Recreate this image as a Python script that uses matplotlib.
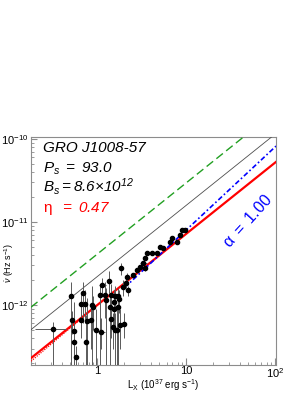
import numpy as np
import matplotlib
matplotlib.use("Agg")
import matplotlib.pyplot as plt
from matplotlib.ticker import FixedLocator, FuncFormatter, LogLocator, NullFormatter

plt.rcParams['font.family'] = ['Liberation Sans', 'DejaVu Sans']
plt.rcParams['mathtext.fontset'] = 'custom'
plt.rcParams['mathtext.rm'] = 'Liberation Sans'
plt.rcParams['mathtext.it'] = 'Liberation Sans:italic'
plt.rcParams['mathtext.sf'] = 'Liberation Sans:italic'  # used for the italic labels
plt.rcParams['mathtext.bf'] = 'Liberation Sans:bold'

# ---------------- data ----------------
# L_X in 1e37 erg/s, nudot in 1e-12 Hz/s
lum = [0.32, 0.51, 0.52, 0.55, 0.55, 0.57, 0.75, 0.70, 0.77, 0.66,
       0.73, 0.88, 0.66, 0.86, 0.90, 0.97, 1.08, 1.14, 1.23, 1.11,
       1.26, 1.36, 1.40, 1.44, 1.44, 1.51, 1.55, 1.55, 1.59, 1.59,
       1.68, 1.72, 1.72, 1.77, 1.81, 2.01, 1.86, 1.96, 2.12, 2.17,
       2.23, 2.54, 2.81, 3.04, 3.29, 3.46, 3.46, 3.65, 4.15, 4.72,
       5.10, 5.52, 6.61, 6.97, 7.92, 8.57, 9.02, 9.75]
lum_err = [0.12, 0.02, 0.02, 0.02, 0.03, 0.02, 0.02, 0.03, 0.03, 0.03,
           0.03, 0.04, 0.03, 0.04, 0.04, 0.04, 0.05, 0.10, 0.05, 0.10,
           0.05, 0.05, 0.05, 0.05, 0.05, 0.05, 0.05, 0.05, 0.05, 0.05,
           0.05, 0.05, 0.05, 0.05, 0.05, 0.05, 0.05, 0.05, 0.08, 0.06,
           0.06, 0.10, 0.10, 0.10, 0.30, 0.10, 0.10, 0.25, 0.15, 0.15,
           0.20, 0.20, 0.20, 0.20, 0.25, 0.30, 0.30, 0.40]
nudot = [0.52, 1.28, 0.66, 0.49, 0.36, 0.24, 0.36, 1.39, 0.64, 1.03,
         1.03, 1.00, 0.66, 0.66, 0.95, 0.50, 1.32, 1.74, 1.32, 0.48,
         1.15, 1.94, 0.95, 1.32, 0.68, 0.55, 1.09, 0.90, 1.28, 0.50,
         0.50, 1.28, 0.95, 1.18, 0.58, 0.59, 2.77, 1.64, 1.83, 2.16,
         1.51, 2.29, 2.62, 2.85, 3.18, 2.77, 3.65, 4.20, 4.20, 4.20,
         4.95, 4.82, 5.68, 6.34, 5.68, 6.89, 7.91, 7.91]
nudot_lo = [0.05, 0.05, 0.45, 0.05, 0.05, 0.05, 0.05, 0.60, 0.05, 0.50,
            0.60, 0.05, 0.40, 0.30, 0.50, 0.05, 0.05, 1.30, 0.70, 0.30,
            0.05, 1.40, 0.05, 0.80, 0.40, 0.30, 0.70, 0.50, 0.90, 0.05,
            0.05, 0.90, 0.05, 0.80, 0.30, 0.40, 2.30, 1.30, 1.60, 1.95,
            1.30, 2.15, 2.45, 2.70, 3.00, 2.60, 3.45, 4.00, 4.00, 4.00,
            4.75, 4.62, 5.45, 6.10, 5.45, 6.60, 7.60, 7.60]
nudot_hi = [0.62, 1.90, 0.85, 1.10, 0.55, 0.32, 0.75, 1.90, 1.20, 1.40,
            1.50, 1.70, 1.00, 1.00, 1.30, 0.90, 1.80, 2.10, 1.90, 0.70,
            1.60, 2.60, 1.40, 1.80, 1.00, 0.80, 1.50, 1.30, 1.70, 0.80,
            0.90, 1.60, 1.30, 1.50, 0.90, 0.80, 3.20, 2.00, 2.10, 2.40,
            1.70, 2.45, 2.80, 3.00, 3.35, 2.95, 3.85, 4.40, 4.40, 4.40,
            5.15, 5.02, 5.90, 6.60, 5.90, 7.20, 8.20, 8.20]

# model lines: nudot = k * L^index (units 1e-12 Hz/s)
k_red, k_black, k_green = 1.0, 2.2, 4.1
index_67 = 6.0 / 7.0
k_blue, index_blue = 0.8, 1.0
blue_from = 2.0

x_min, x_max = 0.18, 102
y_min, y_max = 1.9e-13, 1.05e-10

# ---------------- figure ----------------
fig = plt.figure(figsize=(3.05, 3.95), dpi=100)
ax = fig.add_axes([31/305, 30/395, 245/305, 228/395])

L = np.array(lum)
nu = np.array(nudot) * 1e-12
lo = nu - np.array(nudot_lo) * 1e-12
hi = np.array(nudot_hi) * 1e-12 - nu
ax.errorbar(L, nu, xerr=lum_err, yerr=[lo, hi], fmt='o', ms=3, color='black',
            ecolor='0.35', elinewidth=0.7, capsize=0, zorder=4)

grid = np.logspace(np.log10(x_min), np.log10(x_max), 200)
ax.plot(grid, k_green * 1e-12 * grid ** index_67, color='#22a022', lw=1.0,
        dashes=(6, 3), zorder=3)
ax.plot(grid, k_black * 1e-12 * grid ** index_67, color='0.3', lw=0.6, zorder=3)
ax.plot(grid, k_red * 1e-12 * grid ** index_67, color='red', lw=1.6, zorder=3)
low = grid[grid < 0.7]
ax.plot(low, k_red * 1e-12 * low ** (index_67 + 0.05), color='red', lw=0.9,
        ls=(0, (1, 1)), zorder=3)
gb = grid[grid >= blue_from]
ax.plot(gb, k_blue * 1e-12 * gb ** index_blue, color='blue', lw=1.2,
        dashes=(3, 1.5, 1, 1.5), zorder=3)

ax.set_xscale('log')
ax.set_yscale('log')
ax.set_xlim(x_min, x_max)
ax.set_ylim(y_min, y_max)

ax.xaxis.set_major_locator(FixedLocator([1, 10, 100]))
ax.xaxis.set_major_formatter(FuncFormatter(
    lambda v, p: {1: '1', 10: '10', 100: r'$10^{2}$'}.get(int(round(v)), '')))
ax.xaxis.set_minor_locator(LogLocator(base=10, subs=np.arange(2, 10)))
ax.xaxis.set_minor_formatter(NullFormatter())
ax.yaxis.set_major_locator(FixedLocator([1e-12, 1e-11, 1e-10]))
ax.yaxis.set_major_formatter(FuncFormatter(
    lambda v, p: r'$10^{%d}$' % int(round(np.log10(v)))))
ax.yaxis.set_minor_locator(LogLocator(base=10, subs=np.arange(2, 10)))
ax.yaxis.set_minor_formatter(NullFormatter())

for s in ax.spines.values():
    s.set_color('0.55')
    s.set_linewidth(0.8)
ax.tick_params(which='both', direction='in', color='0.55', top=False, right=False,
               labelsize=8)
ax.tick_params(axis='x', which='major', length=5, pad=1)
ax.tick_params(axis='x', which='minor', length=2.5)
ax.tick_params(axis='y', which='major', length=4, pad=2)
ax.tick_params(axis='y', which='minor', length=2)

ax.text(0.049, 0.934, 'GRO J1008-57', style='italic', fontsize=11,
        transform=ax.transAxes, va='baseline')
ax.text(0.049, 0.846, r'$\mathsf{P_s\ =\ 93.0}$', fontsize=11,
        transform=ax.transAxes, va='baseline')
ax.text(0.049, 0.762, r'$\mathsf{B_s{=}8.6{\times}10^{12}}$', fontsize=11,
        transform=ax.transAxes, va='baseline')
ax.text(0.049, 0.671, r'$\mathrm{\eta}\ \ \mathsf{=\ 0.47}$', fontsize=11,
        color='red', transform=ax.transAxes, va='baseline')
ax.text(0.886, 0.632, r'$\mathrm{\alpha}\ =\ 1.00$', fontsize=11.5, color='blue',
        rotation=48, transform=ax.transAxes, ha='center', va='center')

fig.text(163/305, 1 - 385/395, r'L$_{\rm X}$ (10$^{37}$ erg s$^{-1}$)',
         fontsize=7, ha='center', va='center')
fig.text(9/305, 1 - 263/395, r'$\dot{\nu}$ (Hz s$^{-1}$)', fontsize=6.5,
         rotation=90, ha='center', va='center')

fig.savefig('out.png', dpi=100)
